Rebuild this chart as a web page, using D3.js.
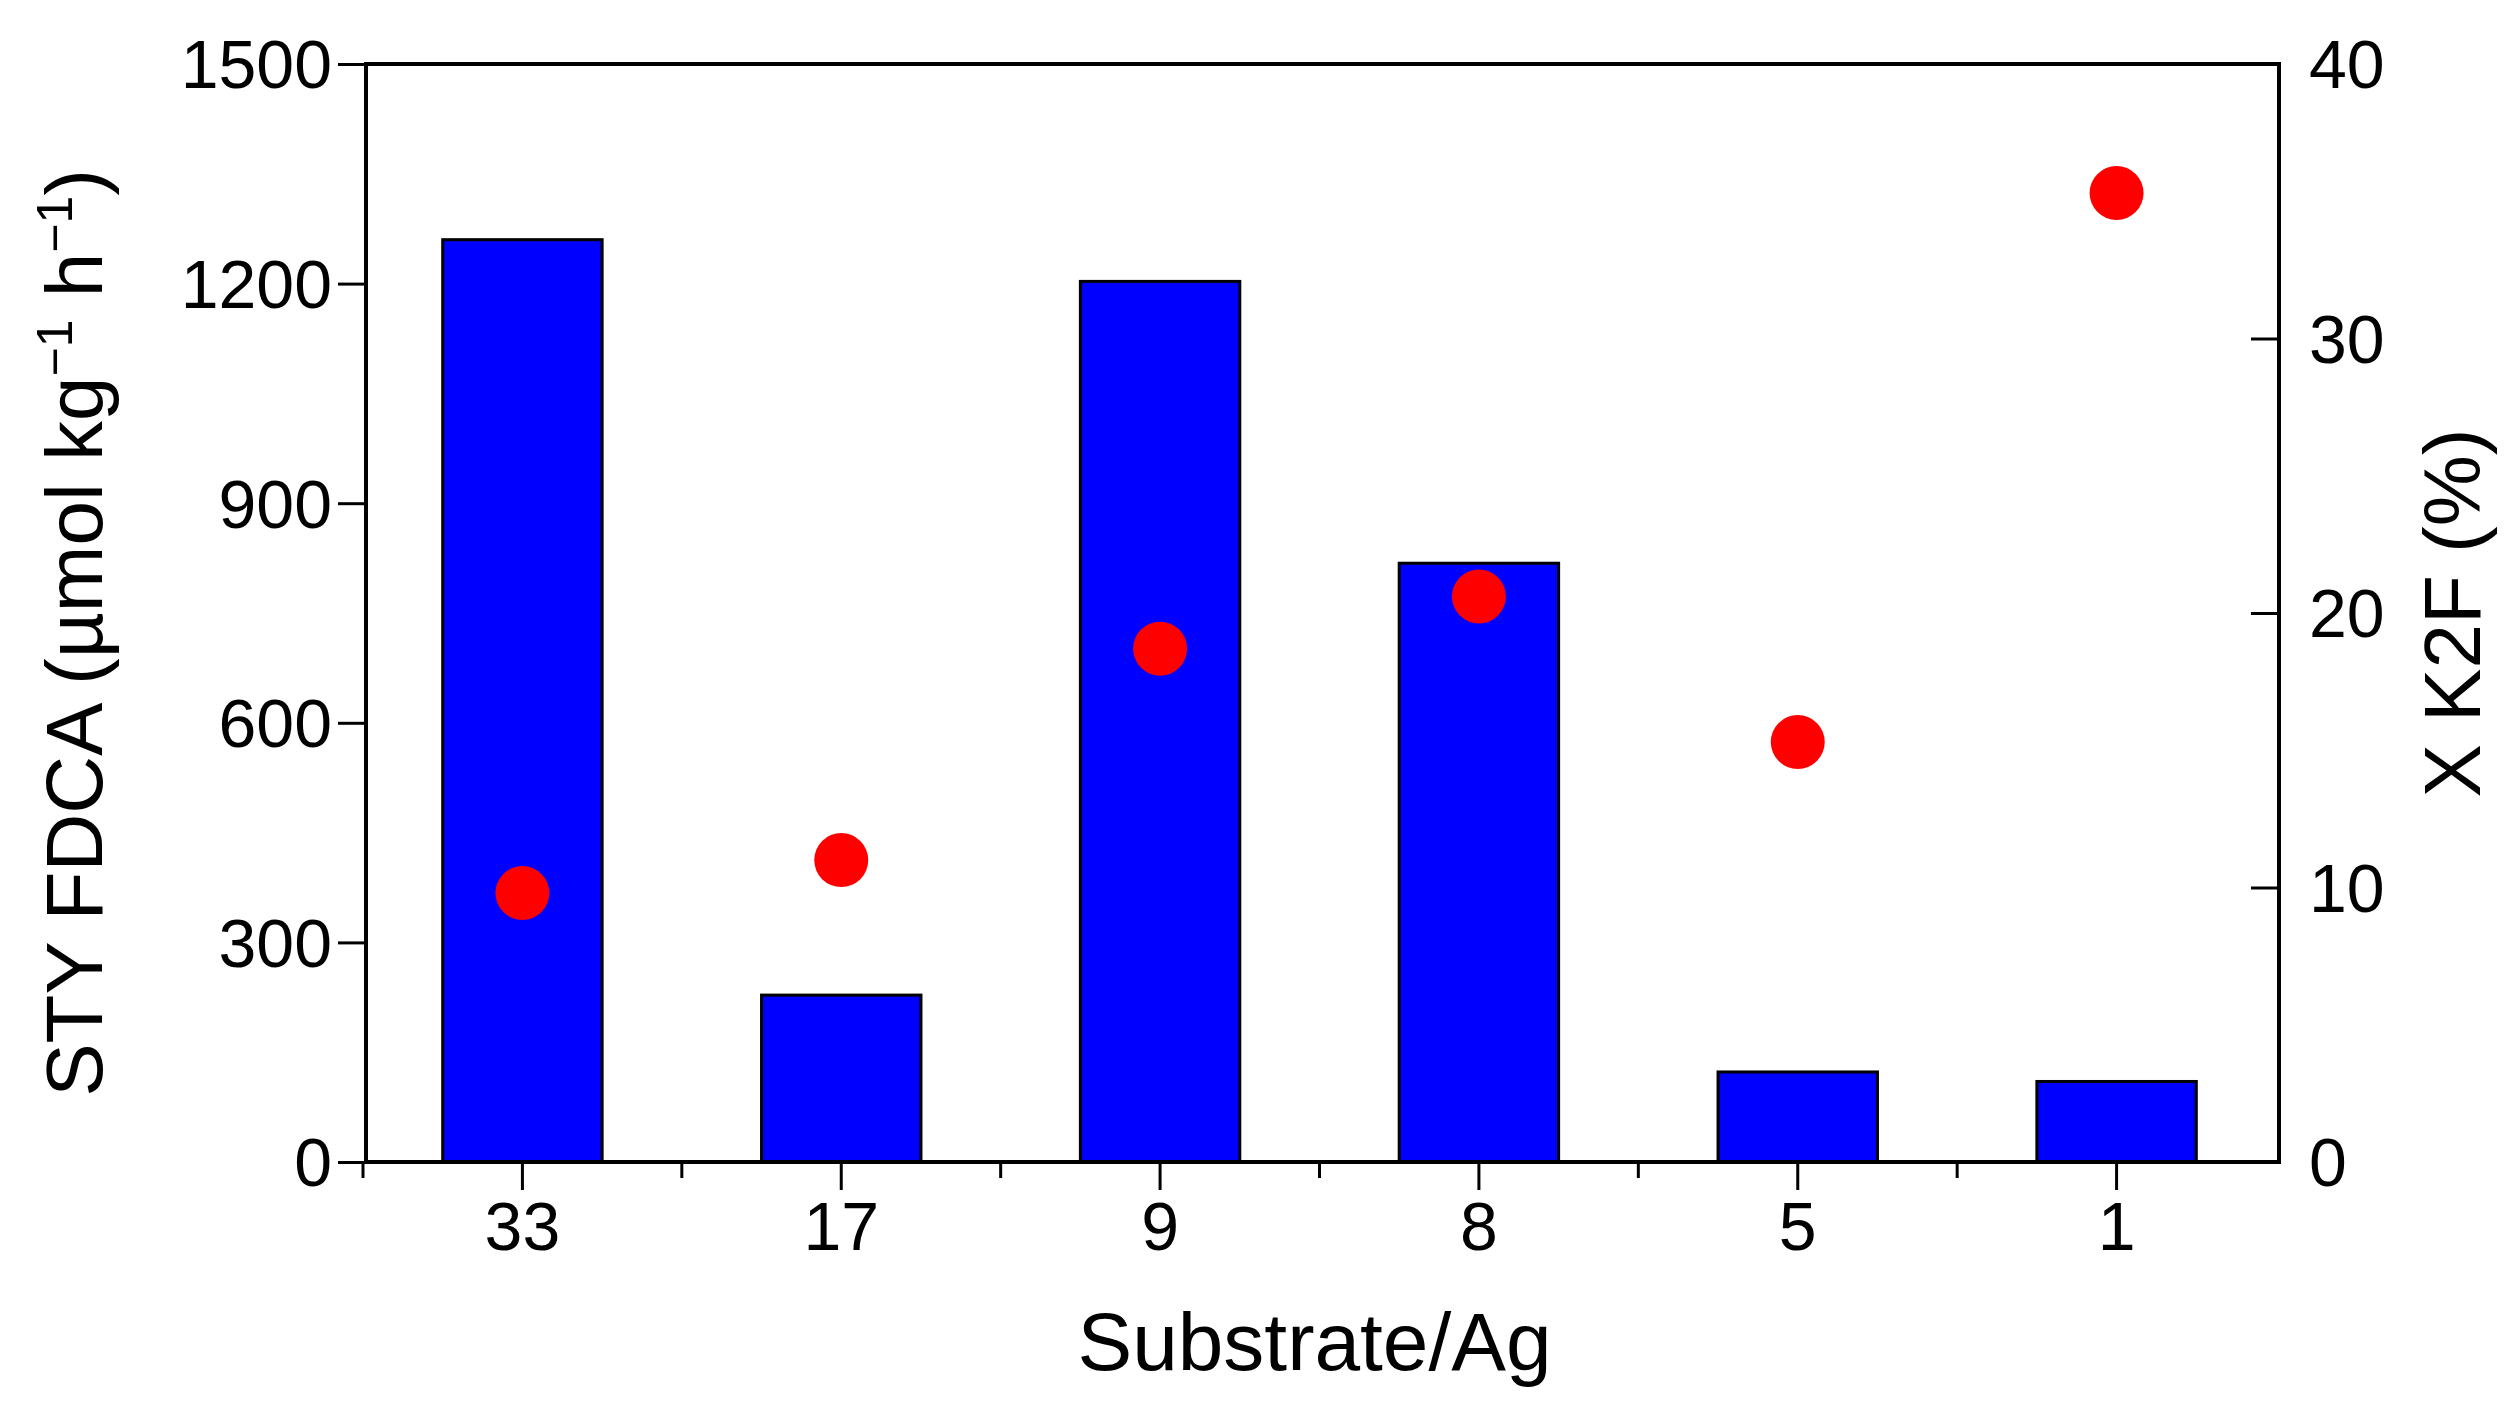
<!DOCTYPE html>
<html><head><meta charset="utf-8">
<script src="https://d3js.org/d3.v7.min.js"></script>
<style>body{margin:0;background:#fff}text{font-family:"Liberation Sans",Arial,sans-serif}</style>
</head><body>
<svg id="chart" width="2509" height="1411"></svg>
<script>
const categories = ['33', '17', '9', '8', '5', '1'];
const styValues = [1260, 228, 1203, 818, 123, 110];
const conversion = [9.8, 11.0, 18.7, 20.6, 15.3, 35.3];
const leftTicks = [0, 300, 600, 900, 1200, 1500];
const rightTicks = [0, 10, 20, 30, 40];

const svg = d3.select('#chart');
const m = {left: 366, right: 2279, top: 64, bottom: 1162};

const x = d3.scaleBand().domain(categories).range([m.left, m.right]).paddingInner(0.5).paddingOuter(0.25);
const yL = d3.scaleLinear().domain([0, 1500]).range([m.bottom, m.top]);
const yR = d3.scaleLinear().domain([0, 40]).range([m.bottom, m.top]);

// bars
svg.append('g').selectAll('rect').data(categories).join('rect')
    .attr('x', d => x(d) - 3).attr('width', x.bandwidth())
    .attr('y', (d, i) => yL(styValues[i]))
    .attr('height', (d, i) => yL(0) - yL(styValues[i]))
    .attr('fill', '#0000ff').attr('stroke', '#000').attr('stroke-width', 3);

// dots
svg.append('g').selectAll('circle').data(categories).join('circle')
    .attr('cx', d => x(d) - 3 + x.bandwidth() / 2)
    .attr('cy', (d, i) => yR(conversion[i]))
    .attr('r', 27).attr('fill', '#ff0000');

// frame
svg.append('rect').attr('x', m.left).attr('y', m.top)
    .attr('width', m.right - m.left).attr('height', m.bottom - m.top)
    .attr('fill', 'none').attr('stroke', '#000').attr('stroke-width', 4);

const fs = 68;
// left axis
const left = svg.append('g').attr('transform', `translate(${m.left},0)`)
    .call(d3.axisLeft(yL).tickValues(d3.range(150, 1500, 300)).tickSize(16).tickFormat(''));
left.call(d3.axisLeft(yL).tickValues(leftTicks).tickSize(28).tickPadding(6).tickFormat(d3.format('d')))
    .call(g => g.select('.domain').remove());
// right axis (ticks inside)
const right = svg.append('g').attr('transform', `translate(${m.right},0)`)
    .call(d3.axisRight(yR).tickValues(d3.range(5, 40, 10)).tickSize(-16).tickFormat(''));
right.call(d3.axisRight(yR).tickValues(rightTicks).tickSize(-28).tickPadding(30))
    .call(g => g.select('.domain').remove());
// bottom axis
const step = x.step();
const minorX = categories.map(d => x(d) - 3 + x.bandwidth() / 2 + step / 2).slice(0, -1)
    .concat([x(categories[0]) - 3 + x.bandwidth() / 2 - step / 2]);
svg.append('g').selectAll('line.minor').data(minorX).join('line')
    .attr('x1', d => d).attr('x2', d => d).attr('y1', m.bottom).attr('y2', m.bottom + 16)
    .attr('stroke', '#000').attr('stroke-width', 3);
const bottom = svg.append('g').attr('transform', `translate(-3,${m.bottom})`)
    .call(d3.axisBottom(x).tickSize(28).tickPadding(12));
bottom.select('.domain').remove();

svg.selectAll('.tick line').attr('stroke-width', 3);
svg.selectAll('.tick text').attr('font-size', fs).attr('fill', '#000')
    .style('font-family', '"Liberation Sans",Arial,sans-serif');
left.selectAll('.tick text').attr('dy', '0.35em');
right.selectAll('.tick text').attr('dy', '0.35em');

// titles
svg.append('text').attr('x', (m.left + m.right) / 2 - 8).attr('y', 1370)
    .attr('text-anchor', 'middle').attr('font-size', 82).text('Substrate/Ag');
const lt = svg.append('text').attr('transform', `translate(102,${(m.top + m.bottom) / 2 + 20}) rotate(-90)`)
    .attr('text-anchor', 'middle').attr('font-size', 80);
lt.append('tspan').text('STY FDCA (µmol kg');
lt.append('tspan').attr('dy', -30).attr('font-size', 50).text('−1');
lt.append('tspan').attr('dy', 30).text(' h');
lt.append('tspan').attr('dy', -30).attr('font-size', 50).text('−1');
lt.append('tspan').attr('dy', 30).text(')');
svg.append('text').attr('transform', `translate(2480,${(m.top + m.bottom) / 2}) rotate(-90)`)
    .attr('text-anchor', 'middle').attr('font-size', 80).text('X K2F (%)');
</script>
</body></html>
